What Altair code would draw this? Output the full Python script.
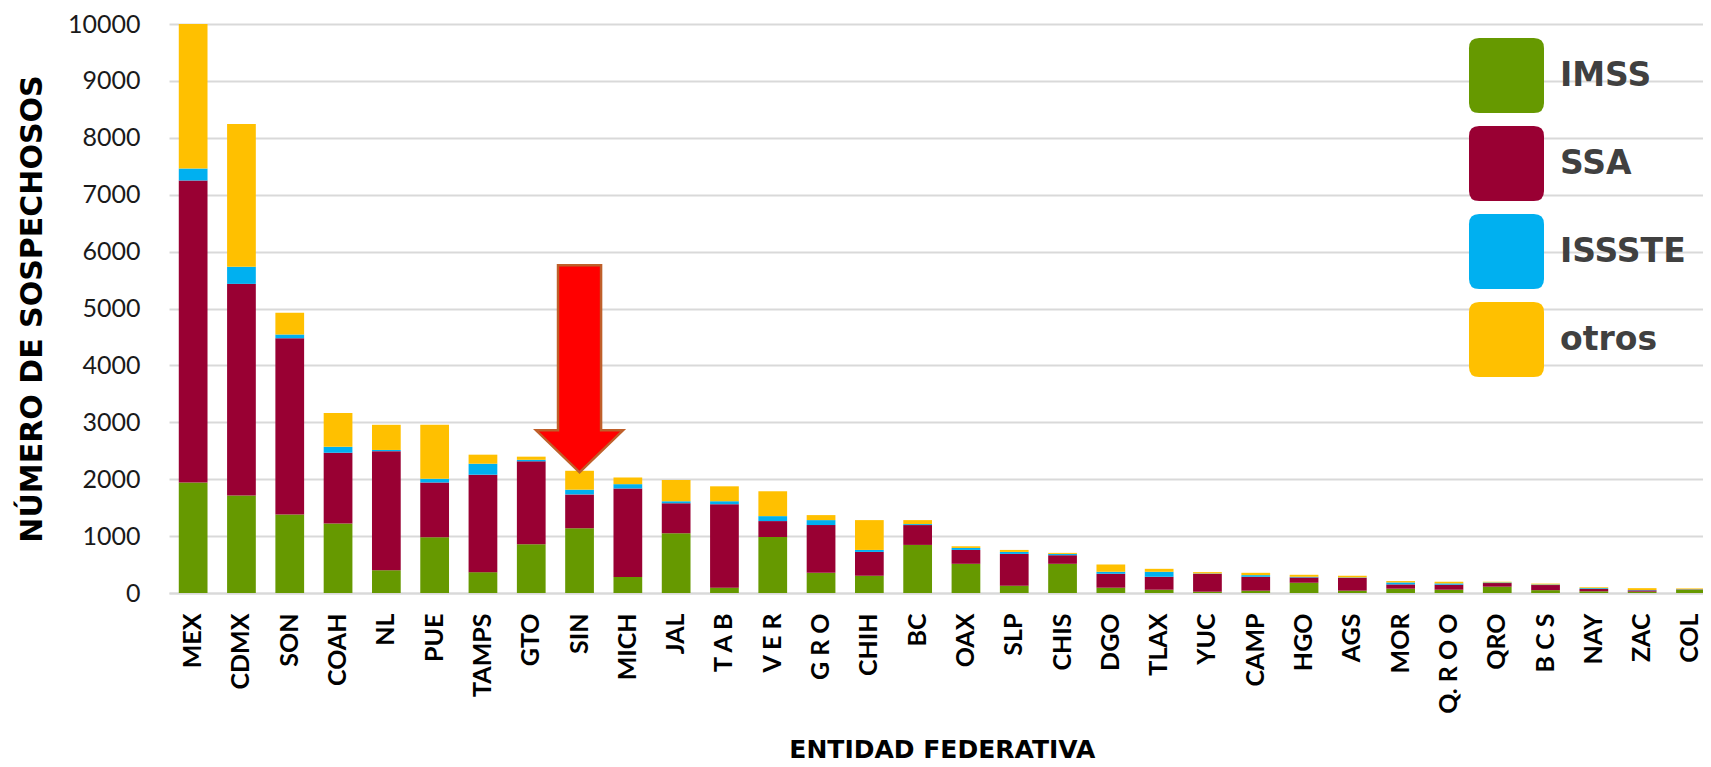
import altair as alt
import pandas as pd

# ---- data ----
estados = ["MEX", "CDMX", "SON", "COAH", "NL", "PUE", "TAMPS", "GTO", "SIN", "MICH",
           "JAL", "T A B", "V E R", "G R O", "CHIH", "BC", "OAX", "SLP", "CHIS", "DGO",
           "TLAX", "YUC", "CAMP", "HGO", "AGS", "MOR", "Q. R O O", "QRO", "B C S", "NAY",
           "ZAC", "COL"]
imss = [1940, 1713, 1380, 1222, 400, 981, 366, 856, 1140, 283,
        1052, 93, 984, 355, 303, 845, 513, 128, 513, 93,
        58, 23, 41, 180, 41, 76, 58, 111, 50, 30,
        23, 60]
ssa = [5310, 3720, 3095, 1243, 2093, 960, 1713, 1458, 593, 1554,
       527, 1468, 280, 839, 419, 349, 244, 559, 151, 245,
       227, 315, 244, 94, 227, 75, 88, 64, 90, 40,
       24, 5]
issste = [210, 300, 70, 104, 21, 69, 193, 27, 83, 76,
          33, 52, 87, 87, 35, 17, 35, 35, 23, 35,
          88, 6, 29, 11, 6, 35, 23, 11, 10, 15,
          6, 3]
otros = [2540, 2510, 380, 594, 442, 946, 159, 55, 332, 117,
         373, 262, 437, 88, 524, 70, 29, 35, 18, 128,
         52, 23, 41, 35, 29, 24, 29, 12, 15, 15,
         32, 12]

instituciones = ["IMSS", "SSA", "ISSSTE", "otros"]
colores = ["#669900", "#990033", "#00B0F0", "#FFC000"]
y_ticks = [0, 1000, 2000, 3000, 4000, 5000, 6000, 7000, 8000, 9000, 10000]

# arrow annotation (points at SIN)
arrow_estado = ["SIN"]
arrow_top = [5750]
arrow_tip = [2130]

rows = []
series = [imss, ssa, issste, otros]
for i, e in enumerate(estados):
    for k, inst in enumerate(instituciones):
        rows.append({"estado": e, "inst": inst, "orden": k, "valor": series[k][i]})
df = pd.DataFrame(rows)

arrow_df = pd.DataFrame({
    "estado": arrow_estado,
    "centro": [(a + b) / 2 for a, b in zip(arrow_top, arrow_tip)],
})

step = 48.3
x_scale = alt.Scale(domain=estados, range=[0, step * len(estados)],
                    paddingInner=0.405, paddingOuter=0.2025)
y_scale = alt.Scale(domain=[0, 10000], nice=False)

rounded_square = ("M -0.73 -1 L 0.73 -1 Q 1 -1 1 -0.73 L 1 0.73 Q 1 1 0.73 1 "
                  "L -0.73 1 Q -1 1 -1 0.73 L -1 -0.73 Q -1 -1 -0.73 -1 Z")

bars = alt.Chart(df).mark_bar().encode(
    x=alt.X("estado:N", scale=x_scale, sort=estados,
            axis=alt.Axis(title="ENTIDAD FEDERATIVA", labelAngle=-90,
                          labelFont="Lato", labelFontSize=25, labelFontWeight="bold",
                          labelColor="#000000", labelPadding=20, ticks=False, tickSize=0,
                          domainColor="#D9D9D9", domainWidth=2,
                          titleFont="DejaVu Sans", titleFontSize=25, titleFontWeight="bold",
                          titleColor="#000000", titlePadding=24, labelLimit=300)),
    y=alt.Y("valor:Q", stack="zero", scale=y_scale,
            axis=alt.Axis(title="NÚMERO DE SOSPECHOSOS", values=y_ticks, format="d",
                          labelFont="Lato", labelFontSize=25, labelColor="#1A1A1A",
                          labelPadding=29, ticks=False, tickSize=0, domain=False,
                          gridColor="#D9D9D9", gridWidth=2,
                          titleFont="DejaVu Sans", titleFontSize=30, titleFontWeight="bold",
                          titleColor="#000000", titlePadding=20)),
    color=alt.Color("inst:N", title=None,
                    scale=alt.Scale(domain=instituciones, range=colores),
                    legend=alt.Legend(orient="none", legendX=1300, legendY=14,
                                      symbolType=rounded_square, symbolSize=5625,
                                      symbolStrokeWidth=0, padding=0, rowPadding=13,
                                      labelOffset=16, labelFont="DejaVu Sans",
                                      labelFontSize=33, labelFontWeight="bold",
                                      labelColor="#404040", labelLimit=400)),
    order=alt.Order("orden:Q", sort="ascending"),
)

arrow_path = ("M -0.208 -1 L 0.208 -1 L 0.208 0.594 L 0.42 0.594 L 0 1 "
              "L -0.42 0.594 L -0.208 0.594 Z")
arrow = alt.Chart(arrow_df).mark_point(
    shape=arrow_path, size=42849, filled=True, color="#FF0000",
    stroke="#BF5F2A", strokeWidth=2.5, opacity=1
).encode(
    x=alt.X("estado:N", scale=x_scale, sort=estados),
    y=alt.Y("centro:Q", scale=y_scale),
)

chart = alt.layer(bars, arrow).properties(
    width=1534, height=569,
    autosize=alt.AutoSizeParams(type="none"),
    padding={"left": 161, "top": 16, "right": 0, "bottom": 172},
).configure_view(strokeWidth=0)

chart.save("out.html", embed_options={"renderer": "svg", "actions": False})
